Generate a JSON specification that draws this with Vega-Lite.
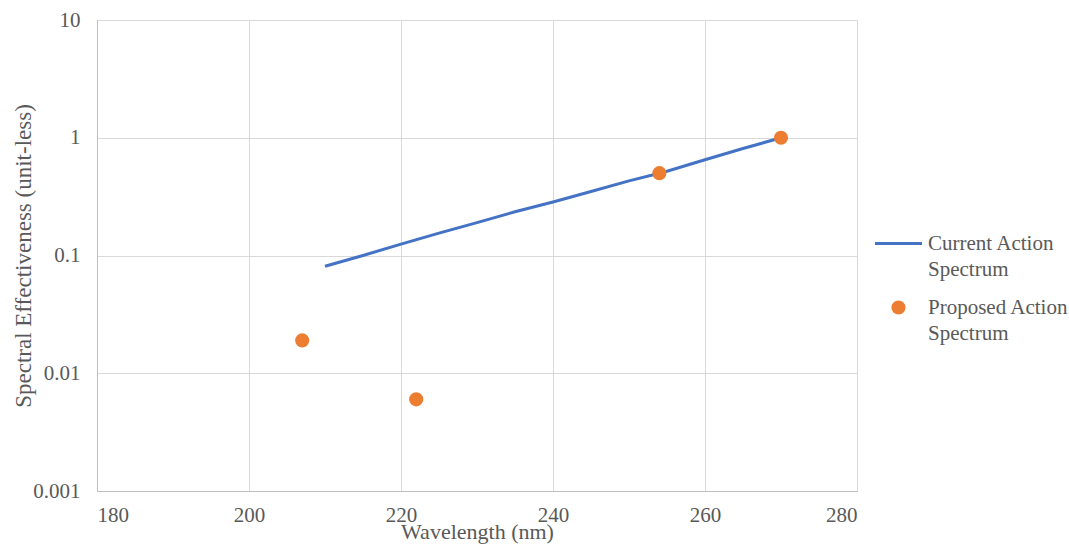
{
  "$schema": "https://vega.github.io/schema/vega-lite/v6.json",
  "width": 760,
  "height": 471,
  "autosize": "none",
  "padding": {"left": 97, "top": 20, "right": 212, "bottom": 55},
  "background": "white",
  "config": {
    "font": "Liberation Serif",
    "view": {"stroke": null}
  },
  "datasets": {
    "spectra": [
      {"series": "Current Action Spectrum", "wavelength": 210, "effectiveness": 0.081},
      {"series": "Current Action Spectrum", "wavelength": 215, "effectiveness": 0.1},
      {"series": "Current Action Spectrum", "wavelength": 220, "effectiveness": 0.125},
      {"series": "Current Action Spectrum", "wavelength": 225, "effectiveness": 0.155},
      {"series": "Current Action Spectrum", "wavelength": 230, "effectiveness": 0.19},
      {"series": "Current Action Spectrum", "wavelength": 235, "effectiveness": 0.235},
      {"series": "Current Action Spectrum", "wavelength": 240, "effectiveness": 0.285},
      {"series": "Current Action Spectrum", "wavelength": 245, "effectiveness": 0.35},
      {"series": "Current Action Spectrum", "wavelength": 250, "effectiveness": 0.43},
      {"series": "Current Action Spectrum", "wavelength": 254, "effectiveness": 0.5},
      {"series": "Current Action Spectrum", "wavelength": 255, "effectiveness": 0.52},
      {"series": "Current Action Spectrum", "wavelength": 260, "effectiveness": 0.65},
      {"series": "Current Action Spectrum", "wavelength": 265, "effectiveness": 0.81},
      {"series": "Current Action Spectrum", "wavelength": 270, "effectiveness": 1.0},
      {"series": "Proposed Action Spectrum", "wavelength": 207, "effectiveness": 0.019},
      {"series": "Proposed Action Spectrum", "wavelength": 222, "effectiveness": 0.006},
      {"series": "Proposed Action Spectrum", "wavelength": 254, "effectiveness": 0.5},
      {"series": "Proposed Action Spectrum", "wavelength": 270, "effectiveness": 1.0}
    ]
  },
  "data": {"name": "spectra"},
  "encoding": {
    "x": {
      "field": "wavelength",
      "type": "quantitative",
      "scale": {"domain": [180, 280], "nice": false, "zero": false},
      "axis": {
        "values": [180, 200, 220, 240, 260, 280],
        "title": "Wavelength (nm)",
        "grid": true,
        "gridColor": "#d9d9d9",
        "domainColor": "#bfbfbf",
        "ticks": false,
        "labelFont": "Liberation Serif",
        "labelFontSize": 21,
        "labelColor": "#595959",
        "labelPadding": 13,
        "titleFont": "Liberation Serif",
        "titleFontSize": 22,
        "titleFontWeight": "normal",
        "titleColor": "#595959",
        "titlePadding": -4
      }
    },
    "y": {
      "field": "effectiveness",
      "type": "quantitative",
      "scale": {"type": "log", "domain": [0.001, 10], "nice": false},
      "axis": {
        "values": [0.001, 0.01, 0.1, 1, 10],
        "labelExpr": "datum.value >= 1 ? format(datum.value, 'd') : format(datum.value, '')",
        "title": "Spectral Effectiveness (unit-less)",
        "grid": true,
        "gridColor": "#d9d9d9",
        "domainColor": "#bfbfbf",
        "ticks": false,
        "labelFont": "Liberation Serif",
        "labelFontSize": 21,
        "labelColor": "#595959",
        "labelPadding": 17,
        "titleFont": "Liberation Serif",
        "titleFontSize": 23,
        "titleFontWeight": "normal",
        "titleColor": "#595959",
        "titlePadding": -3
      }
    },
    "color": {
      "field": "series",
      "type": "nominal",
      "scale": {"domain": ["Current Action Spectrum", "Proposed Action Spectrum"], "range": ["#4472C4", "#ED7D31"]},
      "legend": {
        "title": null,
        "orient": "none",
        "legendX": 791,
        "legendY": 213,
        "symbolSize": 2209,
        "labelFont": "Liberation Serif",
        "labelFontSize": 21,
        "labelColor": "#595959",
        "labelBaseline": "top",
        "labelOffset": 19,
        "labelLimit": 300,
        "rowPadding": 16,
        "labelExpr": "datum.label == 'Current Action Spectrum' ? ['Current Action', 'Spectrum'] : ['Proposed Action', 'Spectrum']",
        "encode": {
          "labels": {
            "update": {
              "lineHeight": {"value": 26},
              "dy": {"value": -11}
            }
          },
          "symbols": {
            "update": {
              "shape": {"signal": "datum.value == 'Current Action Spectrum' ? 'stroke' : 'circle'"},
              "size": {"signal": "datum.value == 'Current Action Spectrum' ? 2209 : 200"},
              "strokeWidth": {"signal": "datum.value == 'Current Action Spectrum' ? 3 : 0"},
              "fill": {"signal": "datum.value == 'Current Action Spectrum' ? 'transparent' : '#ED7D31'"},
              "stroke": {"signal": "datum.value == 'Current Action Spectrum' ? '#4472C4' : '#ED7D31'"},
              "opacity": {"value": 1},
              "fillOpacity": {"value": 1},
              "strokeOpacity": {"value": 1}
            }
          }
        }
      }
    }
  },
  "layer": [
    {
      "transform": [{"filter": "datum.series == 'Current Action Spectrum'"}],
      "mark": {"type": "line", "strokeWidth": 3}
    },
    {
      "transform": [{"filter": "datum.series == 'Proposed Action Spectrum'"}],
      "mark": {"type": "point", "filled": true, "size": 200, "opacity": 1, "shape": "circle"}
    }
  ]
}
